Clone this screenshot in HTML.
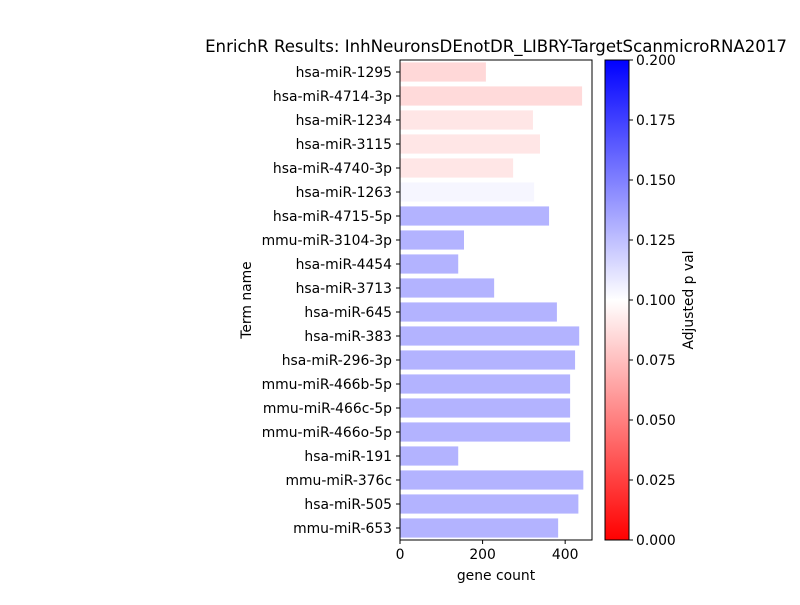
<!DOCTYPE html>
<html><head><meta charset="utf-8"><style>
body{margin:0;background:#fff;font-family:"Liberation Sans",sans-serif;}
svg text{font-family:"DejaVu Sans","Liberation Sans",sans-serif;fill:#000;}
</style></head><body>
<svg id="chart" width="800" height="600"></svg>
<script>
const terms=["hsa-miR-1295","hsa-miR-4714-3p","hsa-miR-1234","hsa-miR-3115","hsa-miR-4740-3p","hsa-miR-1263","hsa-miR-4715-5p","mmu-miR-3104-3p","hsa-miR-4454","hsa-miR-3713","hsa-miR-645","hsa-miR-383","hsa-miR-296-3p","mmu-miR-466b-5p","mmu-miR-466c-5p","mmu-miR-466o-5p","hsa-miR-191","mmu-miR-376c","hsa-miR-505","mmu-miR-653"];
const counts=[208,441,322,339,274,325,361,155,141,228,380,434,424,412,412,412,141,444,432,383];
const pvals=[0.083,0.084,0.089,0.089,0.089,0.104,0.133,0.133,0.133,0.133,0.133,0.133,0.133,0.133,0.133,0.133,0.133,0.133,0.133,0.133];
const xTicks=[0,200,400];
const cTicks=["0.000","0.025","0.050","0.075","0.100","0.125","0.150","0.175","0.200"];
const NS="http://www.w3.org/2000/svg";
const svg=document.getElementById("chart");
const L=400,R=592,T=60,B=540,xmax=465;
const xs=v=>L+(v/xmax)*(R-L);
const band=(B-T)/terms.length;
const FS=13.9;
function el(t,a,txt){const e=document.createElementNS(NS,t);for(const k in a)e.setAttribute(k,a[k]);if(txt!==undefined)e.textContent=txt;svg.appendChild(e);return e;}
function col(p){let r,g,b;if(p<=0.1){r=255;g=b=Math.round(255*p/0.1);}else{b=255;r=g=Math.round(255*(1-(p-0.1)/0.1));}return`rgb(${r},${g},${b})`;}
terms.forEach((t,i)=>{
 const y=T+band*i;
 const b=el("rect",{x:L,y:y+band*0.1,width:xs(counts[i])-L,height:band*0.8,fill:col(pvals[i]),"fill-opacity":0.9});
 
 
 el("line",{x1:L-4,x2:L,y1:y+band/2,y2:y+band/2,stroke:"#000"});
 const lb=el("text",{x:L-8,y:y+band/2+5,"text-anchor":"end","font-size":FS},t);
 
 
});
el("rect",{x:L,y:T,width:R-L,height:B-T,fill:"none",stroke:"#000","stroke-width":1});
xTicks.forEach(v=>{
 el("line",{x1:xs(v),x2:xs(v),y1:B,y2:B+4,stroke:"#000"});
 const tx=el("text",{x:xs(v),y:B+19,"text-anchor":"middle","font-size":FS},String(v));
 
 
});
const xt=el("text",{x:496,y:580,"text-anchor":"middle","font-size":FS},"gene count");


const yt=el("text",{x:251,y:300,"text-anchor":"middle","font-size":FS,transform:"rotate(-90 251 300)"},"Term name");


const ti=el("text",{x:496,y:52,"text-anchor":"middle","font-size":16.6},"EnrichR Results: InhNeuronsDEnotDR_LIBRY-TargetScanmicroRNA2017");


const defs=el("defs",{});
const g=document.createElementNS(NS,"linearGradient");g.setAttribute("id","cb");g.setAttribute("x1","0");g.setAttribute("y1","1");g.setAttribute("x2","0");g.setAttribute("y2","0");
[[0,"#ff0000"],[0.5,"#ffffff"],[1,"#0000ff"]].forEach(s=>{const st=document.createElementNS(NS,"stop");st.setAttribute("offset",s[0]);st.setAttribute("stop-color",s[1]);g.appendChild(st);});
defs.appendChild(g);
const CL=605,CR=629;
const cb=el("rect",{x:CL,y:T,width:CR-CL,height:B-T,fill:"url(#cb)",stroke:"#000"});


cTicks.forEach((s,i)=>{
 const y=B-(B-T)*i/(cTicks.length-1);
 el("line",{x1:CR,x2:CR+4,y1:y,y2:y,stroke:"#000"});
 const tx=el("text",{x:CR+7,y:y+5,"font-size":FS},s);
 
 
});
const ct=el("text",{x:693,y:300,"text-anchor":"middle","font-size":FS,transform:"rotate(-90 693 300)"},"Adjusted p val");


</script>
</body></html>
